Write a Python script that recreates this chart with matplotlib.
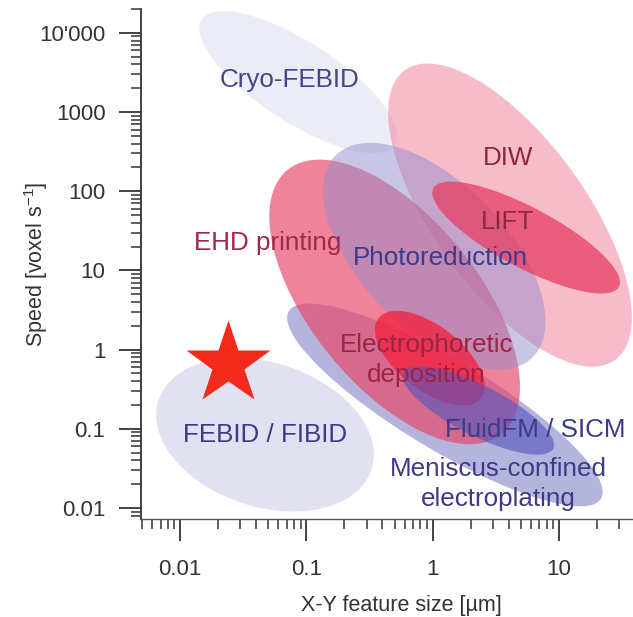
import numpy as np
import matplotlib.pyplot as plt
from matplotlib.ticker import FixedLocator, LogLocator, NullFormatter

plt.rcParams['font.family'] = ['Liberation Sans', 'DejaVu Sans']
plt.rcParams['mathtext.fontset'] = 'custom'
plt.rcParams['mathtext.rm'] = 'Liberation Sans'

# technique regions: centre (feature size um, speed voxel/s)
names = ['Cryo-FEBID', 'FEBID', 'DIW', 'Meniscus', 'EHD', 'Photoreduction',
         'LIFT', 'Electrophoretic', 'FluidFM']
cx = [0.086, 0.047, 4.1, 1.25, 0.50, 1.03, 5.5, 0.95, 2.3]
cy = [2390, 0.084, 50, 0.20, 4.0, 15.1, 26, 0.78, 0.17]
# ellipse half axes (px) and tilt (deg)
semi_a = [115, 112, 179, 182, 170, 141, 105, 65, 84]
semi_b = [40, 72, 76, 45, 84, 73, 30, 32, 25]
tilt = [-33, -18, -54, -31, -51, -46, -28, -38, -27]
fills = ['#dbdbef', '#c5c5e7', '#ef7b97', '#6a6abb', '#e7486a', '#938dcd',
         '#e7385e', '#f51e3d', '#5656bc']
alphas = [0.5, 0.5, 0.5, 0.5, 0.68, 0.5, 0.72, 0.75, 0.62]

labels = ['Cryo-FEBID', 'DIW', 'LIFT', 'EHD printing', 'Photoreduction',
          'Electrophoretic\ndeposition', 'FluidFM / SICM',
          'Meniscus-confined\nelectroplating', 'FEBID / FIBID']
lx = [0.074, 3.95, 3.95, 0.049, 1.15, 0.89, 6.5, 3.3, 0.047]
ly = [2540, 262, 41, 22, 14.4, 0.74, 0.097, 0.0200, 0.084]
lcol = ['#45458a', '#8c2840', '#8c2840', '#a02845', '#3d3a8a', '#9b2345',
        '#3d3a8a', '#3d3a8a', '#3d3a8a']

star_x = [0.024]
star_y = [0.66]

xticks = [0.01, 0.1, 1, 10]
xticklabels = ['0.01', '0.1', '1', '10']
yticks = [0.01, 0.1, 1, 10, 100, 1000, 10000]
yticklabels = ['0.01', '0.1', '1', '10', '100', '1000', "10'000"]

fig = plt.figure(figsize=(6.33, 6.17), dpi=100)
ax = fig.add_axes([141/633, 98/617, 492/633, 510/617])
ax.set_xscale('log')
ax.set_yscale('log')
ax.set_xlim(0.0049, 38.6)
ax.set_ylim(0.00726, 20000)


def blob(x, y, a, b, ang, color, alpha):
    t = np.linspace(0, 2*np.pi, 300)
    s = fig.dpi / 100
    ca, sa = np.cos(np.radians(ang)), np.sin(np.radians(ang))
    px = a*s*np.cos(t)
    py = b*s*np.sin(t)
    x0, y0 = ax.transData.transform((x, y))
    pts = np.column_stack([x0 + px*ca - py*sa, y0 + px*sa + py*ca])
    pts = ax.transData.inverted().transform(pts)
    ax.fill(pts[:, 0], pts[:, 1], color=color, alpha=alpha, lw=0)


for i in range(len(names)):
    blob(cx[i], cy[i], semi_a[i], semi_b[i], tilt[i], fills[i], alphas[i])

ax.plot(star_x, star_y, marker='*', ms=63, color='#f42a1c', mec='none', ls='none')

for i in range(len(labels)):
    ax.text(lx[i], ly[i], labels[i], color=lcol[i], fontsize=18.7,
            ha='center', va='center', linespacing=1.3)

ax.set_xlim(0.0049, 38.6)
ax.set_ylim(0.00726, 20000)

for s in ['top', 'right']:
    ax.spines[s].set_visible(False)
ax.spines['left'].set_color('#333333')
ax.spines['left'].set_linewidth(1.3)
ax.spines['bottom'].set_color('#555555')
ax.spines['bottom'].set_linewidth(1.0)

ax.xaxis.set_major_locator(FixedLocator(xticks))
ax.set_xticklabels(xticklabels)
ax.yaxis.set_major_locator(FixedLocator(yticks))
ax.set_yticklabels(yticklabels)
ax.xaxis.set_minor_locator(LogLocator(base=10, subs=np.arange(2, 10), numticks=20))
ax.yaxis.set_minor_locator(LogLocator(base=10, subs=np.arange(2, 10), numticks=20))
ax.xaxis.set_minor_formatter(NullFormatter())
ax.yaxis.set_minor_formatter(NullFormatter())

ax.tick_params(which='major', direction='out', length=15.5, width=1.3,
               color='#333333', labelsize=16, labelcolor='#333333')
ax.tick_params(which='minor', direction='out', length=7.5, width=1.1, color='#333333')
ax.tick_params(axis='y', which='major', pad=10)
ax.tick_params(axis='x', which='major', pad=13)

ax.set_xlabel('X-Y feature size [µm]', fontsize=15.5, color='#333333')
ax.set_ylabel('Speed [voxel s$^{\\mathregular{-1}}$]', fontsize=15.5, color='#333333')
ax.xaxis.set_label_coords(0.53, -0.15)
ax.yaxis.set_label_coords(-0.185, 0.50)

fig.savefig('out.png', dpi=100)
